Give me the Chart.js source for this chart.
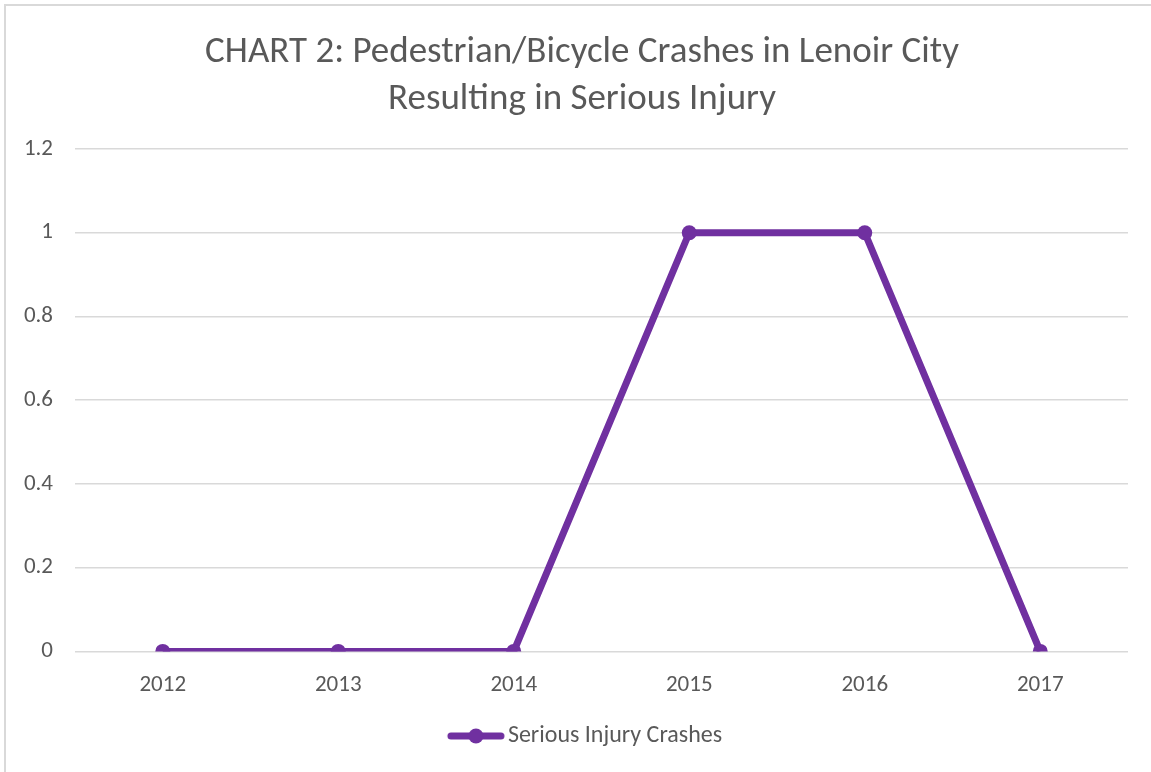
<!DOCTYPE html>
<html>
<head>
<meta charset="utf-8">
<script src="https://cdn.jsdelivr.net/npm/chart.js@4.4.1/dist/chart.umd.min.js"></script>
<style>
    html, body { margin: 0; padding: 0; background: #fff; overflow: hidden; }
    #frame {
        position: absolute; left: 4px; top: 4px; width: 1300px; height: 900px;
        border-top: 2px solid #d9d9d9; border-left: 2px solid #d9d9d9;
    }
    #wrap { position: absolute; left: 0; top: 0; width: 1151px; height: 772px; }
</style>
</head>
<body>
<div id="frame"></div>
<div id="wrap"><canvas id="crashChart"></canvas></div>
<script>
const years = ['2012', '2013', '2014', '2015', '2016', '2017'];
const seriousInjury = [0, 0, 0, 1, 1, 0];
const yTicks = [0, 0.2, 0.4, 0.6, 0.8, 1, 1.2];
const seriesName = 'Serious Injury Crashes';
const titleLines = ['CHART 2: Pedestrian/Bicycle Crashes in Lenoir City', 'Resulting in Serious Injury'];

const purple = '#7030A0';
const textGrey = '#595959';
const fontFamily = "Calibri, Carlito, 'Open Sans', sans-serif";

// legend marker: line with a dot, drawn off-centre so it sits close to the text
function legendMarker() {
    const c = document.createElement('canvas');
    c.width = 110; c.height = 16;
    const ctx = c.getContext('2d');
    ctx.strokeStyle = purple;
    ctx.lineWidth = 7;
    ctx.lineCap = 'round';
    ctx.beginPath();
    ctx.moveTo(55, 8); ctx.lineTo(105, 8);
    ctx.stroke();
    ctx.fillStyle = purple;
    ctx.beginPath();
    ctx.arc(80, 8, 7.5, 0, Math.PI * 2);
    ctx.fill();
    return c;
}

// title in the original sits a bit right of the plot centre
const titleShift = {
    id: 'titleShift',
    afterLayout: function (chart) {
        if (chart.titleBlock) chart.titleBlock.left += 36;
    }
};

document.addEventListener('DOMContentLoaded', function () {
    const marker = legendMarker();
    const ctx = document.getElementById('crashChart').getContext('2d');
    new Chart(ctx, {
        type: 'line',
        data: {
            labels: years,
            datasets: [{
                label: seriesName,
                data: seriousInjury,
                borderColor: purple,
                backgroundColor: purple,
                borderWidth: 7,
                pointRadius: 7.5,
                pointHoverRadius: 7.5,
                pointBackgroundColor: purple,
                pointBorderWidth: 0,
                tension: 0,
                fill: false
            }]
        },
        options: {
            responsive: true,
            maintainAspectRatio: false,
            animation: false,
            layout: { padding: { left: 0, right: 23, top: 7, bottom: 14 } },
            plugins: {
                title: {
                    display: true,
                    text: titleLines,
                    color: textGrey,
                    font: { family: fontFamily, size: 37, weight: 'normal', lineHeight: 1.27 },
                    padding: { top: 22, bottom: 26 }
                },
                legend: {
                    position: 'bottom',
                    labels: {
                        color: textGrey,
                        font: { family: fontFamily, size: 24 },
                        usePointStyle: true,
                        pointStyleWidth: 90,
                        padding: 13,
                        generateLabels: function (chart) {
                            return chart.data.datasets.map(function (ds, i) {
                                return {
                                    text: ds.label,
                                    pointStyle: marker,
                                    fillStyle: purple,
                                    strokeStyle: purple,
                                    lineWidth: 0,
                                    datasetIndex: i,
                                    fontColor: textGrey
                                };
                            });
                        }
                    }
                },
                tooltip: { enabled: false }
            },
            scales: {
                x: {
                    offset: true,
                    grid: { display: false },
                    border: { display: false },
                    ticks: { color: textGrey, font: { family: fontFamily, size: 23 }, padding: 12 }
                },
                y: {
                    min: 0,
                    max: 1.2,
                    afterBuildTicks: function (scale) {
                        scale.ticks = yTicks.map(function (v) { return { value: v }; });
                    },
                    afterFit: function (scale) { scale.width = 75; },
                    grid: { color: '#d9d9d9', lineWidth: 1.5, drawTicks: false },
                    border: { display: false },
                    ticks: {
                        color: textGrey,
                        font: { family: fontFamily, size: 23 },
                        padding: 22,
                        callback: function (v) { return String(Math.round(v * 10) / 10); }
                    }
                }
            }
        },
        plugins: [titleShift]
    });
});
</script>
</body>
</html>
